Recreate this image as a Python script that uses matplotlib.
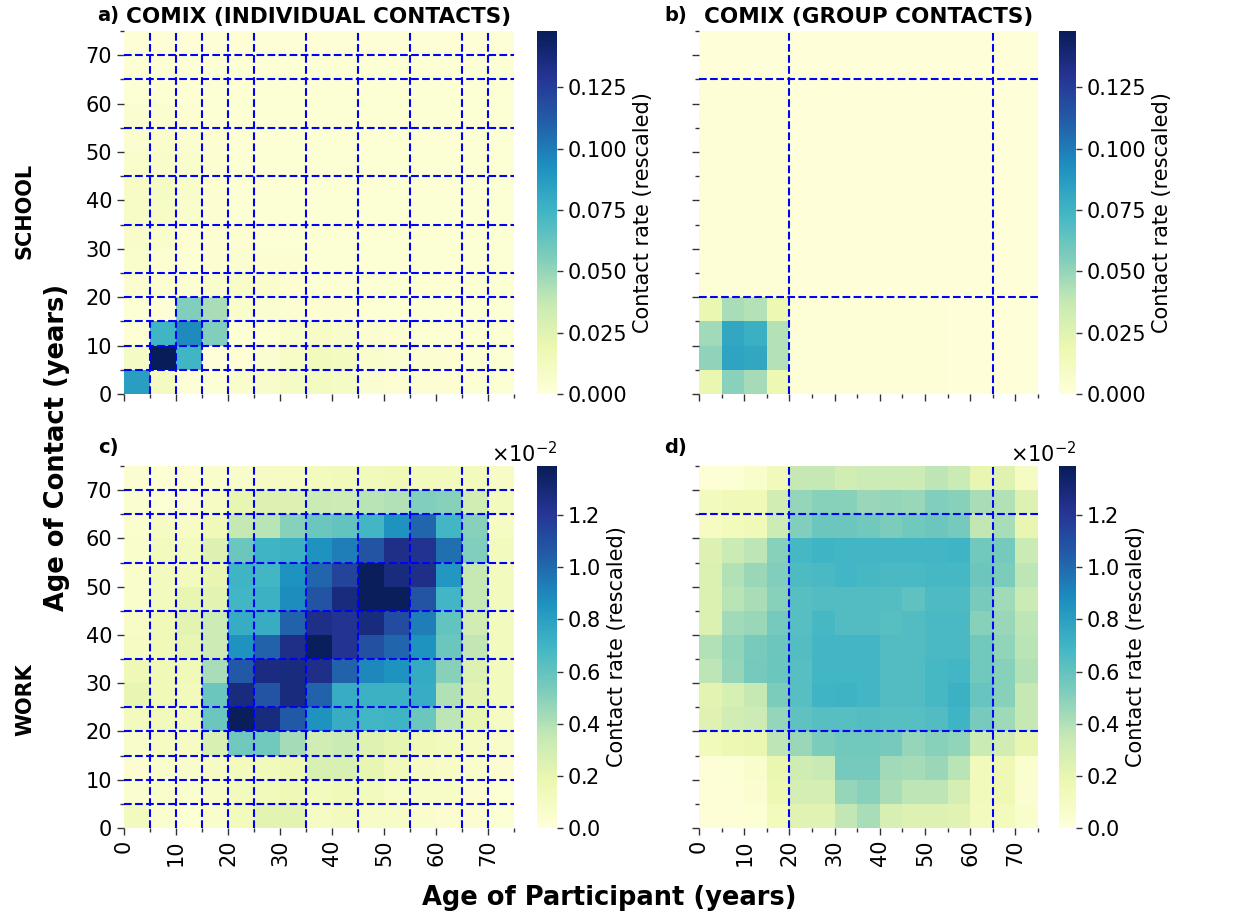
import numpy as np
import matplotlib
matplotlib.use("Agg")
import matplotlib.pyplot as plt
from matplotlib.ticker import MultipleLocator, ScalarFormatter

# 5-year age bins, 0-5 ... 70-75 (rows = age of contact, cols = age of participant)
age_edges = [0, 5, 10, 15, 20, 25, 30, 35, 40, 45, 50, 55, 60, 65, 70, 75]
age_ticks = [0, 10, 20, 30, 40, 50, 60, 70]

# school, individual contacts (rescaled contact rate)
school_individual = [
    [0.086, 0.012, 0.002, 0.003, 0.006, 0.007, 0.010, 0.012, 0.010, 0.005, 0.004, 0.004, 0.004, 0.003, 0.003],
    [0.010, 0.148, 0.074, 0.001, 0.002, 0.005, 0.009, 0.013, 0.012, 0.006, 0.005, 0.004, 0.004, 0.003, 0.003],
    [0.003, 0.074, 0.095, 0.055, 0.003, 0.003, 0.006, 0.009, 0.007, 0.005, 0.004, 0.003, 0.003, 0.003, 0.003],
    [0.003, 0.002, 0.055, 0.045, 0.006, 0.005, 0.004, 0.004, 0.004, 0.003, 0.003, 0.003, 0.003, 0.003, 0.003],
    [0.005, 0.004, 0.004, 0.006, 0.008, 0.006, 0.004, 0.003, 0.003, 0.003, 0.003, 0.003, 0.003, 0.003, 0.003],
    [0.006, 0.004, 0.003, 0.004, 0.005, 0.004, 0.004, 0.003, 0.003, 0.003, 0.003, 0.003, 0.003, 0.003, 0.003],
    [0.007, 0.006, 0.004, 0.004, 0.004, 0.003, 0.003, 0.003, 0.003, 0.003, 0.003, 0.003, 0.003, 0.003, 0.003],
    [0.009, 0.009, 0.006, 0.004, 0.003, 0.003, 0.003, 0.003, 0.003, 0.003, 0.003, 0.003, 0.003, 0.003, 0.003],
    [0.009, 0.010, 0.007, 0.004, 0.003, 0.003, 0.003, 0.003, 0.003, 0.003, 0.003, 0.003, 0.003, 0.003, 0.003],
    [0.006, 0.007, 0.006, 0.004, 0.003, 0.003, 0.003, 0.003, 0.003, 0.003, 0.003, 0.003, 0.003, 0.003, 0.003],
    [0.005, 0.006, 0.005, 0.004, 0.003, 0.003, 0.003, 0.003, 0.003, 0.003, 0.003, 0.003, 0.003, 0.003, 0.003],
    [0.005, 0.005, 0.004, 0.003, 0.003, 0.003, 0.003, 0.003, 0.003, 0.003, 0.003, 0.003, 0.003, 0.003, 0.003],
    [0.003, 0.003, 0.003, 0.003, 0.003, 0.003, 0.003, 0.003, 0.003, 0.003, 0.003, 0.003, 0.003, 0.003, 0.003],
    [0.003, 0.003, 0.003, 0.003, 0.003, 0.003, 0.003, 0.003, 0.003, 0.003, 0.003, 0.003, 0.003, 0.003, 0.003],
    [0.002, 0.002, 0.002, 0.002, 0.002, 0.002, 0.002, 0.002, 0.002, 0.002, 0.002, 0.002, 0.002, 0.002, 0.002],
]

# school, group contacts
school_group = [
    [0.020, 0.053, 0.046, 0.018, 0.002, 0.002, 0.002, 0.002, 0.002, 0.002, 0.002, 0.001, 0.001, 0.001, 0.001],
    [0.052, 0.083, 0.081, 0.042, 0.002, 0.002, 0.002, 0.002, 0.002, 0.002, 0.002, 0.001, 0.001, 0.001, 0.001],
    [0.047, 0.081, 0.077, 0.042, 0.002, 0.002, 0.002, 0.002, 0.002, 0.002, 0.002, 0.001, 0.001, 0.001, 0.001],
    [0.020, 0.045, 0.042, 0.018, 0.002, 0.002, 0.002, 0.002, 0.002, 0.002, 0.002, 0.001, 0.001, 0.001, 0.001],
    [0.002, 0.002, 0.002, 0.002, 0.001, 0.001, 0.001, 0.001, 0.001, 0.001, 0.001, 0.001, 0.001, 0.001, 0.001],
    [0.002, 0.002, 0.002, 0.002, 0.001, 0.001, 0.001, 0.001, 0.001, 0.001, 0.001, 0.001, 0.001, 0.001, 0.001],
    [0.002, 0.002, 0.002, 0.002, 0.001, 0.001, 0.001, 0.001, 0.001, 0.001, 0.001, 0.001, 0.001, 0.001, 0.001],
    [0.002, 0.002, 0.002, 0.002, 0.001, 0.001, 0.001, 0.001, 0.001, 0.001, 0.001, 0.001, 0.001, 0.001, 0.001],
    [0.002, 0.002, 0.002, 0.002, 0.001, 0.001, 0.001, 0.001, 0.001, 0.001, 0.001, 0.001, 0.001, 0.001, 0.001],
    [0.002, 0.002, 0.002, 0.002, 0.001, 0.001, 0.001, 0.001, 0.001, 0.001, 0.001, 0.001, 0.001, 0.001, 0.001],
    [0.002, 0.002, 0.002, 0.002, 0.001, 0.001, 0.001, 0.001, 0.001, 0.001, 0.001, 0.001, 0.001, 0.001, 0.001],
    [0.002, 0.002, 0.002, 0.002, 0.001, 0.001, 0.001, 0.001, 0.001, 0.001, 0.001, 0.001, 0.001, 0.001, 0.001],
    [0.002, 0.002, 0.002, 0.002, 0.001, 0.001, 0.001, 0.001, 0.001, 0.001, 0.001, 0.001, 0.001, 0.001, 0.001],
    [0.001, 0.001, 0.001, 0.001, 0.001, 0.001, 0.001, 0.001, 0.001, 0.001, 0.001, 0.001, 0.001, 0.001, 0.001],
    [0.001, 0.001, 0.001, 0.001, 0.001, 0.001, 0.001, 0.001, 0.001, 0.001, 0.001, 0.001, 0.001, 0.001, 0.001],
]

# work, individual contacts (in units of 1e-2)
work_individual = [
    [0.12, 0.05, 0.03, 0.06, 0.13, 0.22, 0.22, 0.10, 0.12, 0.08, 0.08, 0.06, 0.04, 0.04, 0.03],
    [0.05, 0.06, 0.05, 0.08, 0.12, 0.14, 0.16, 0.12, 0.15, 0.12, 0.08, 0.08, 0.08, 0.04, 0.03],
    [0.04, 0.06, 0.07, 0.10, 0.12, 0.14, 0.16, 0.27, 0.27, 0.20, 0.14, 0.10, 0.08, 0.06, 0.04],
    [0.07, 0.10, 0.10, 0.27, 0.56, 0.56, 0.43, 0.30, 0.33, 0.24, 0.21, 0.15, 0.12, 0.10, 0.07],
    [0.12, 0.14, 0.14, 0.58, 1.38, 1.28, 1.06, 0.86, 0.74, 0.69, 0.70, 0.58, 0.37, 0.20, 0.10],
    [0.20, 0.15, 0.14, 0.58, 1.28, 1.08, 1.28, 1.03, 0.74, 0.72, 0.72, 0.74, 0.40, 0.22, 0.12],
    [0.16, 0.15, 0.15, 0.42, 1.06, 1.27, 1.28, 1.25, 1.03, 0.90, 0.86, 0.75, 0.50, 0.25, 0.12],
    [0.10, 0.15, 0.20, 0.32, 0.86, 1.03, 1.25, 1.38, 1.22, 1.10, 1.01, 0.86, 0.58, 0.36, 0.12],
    [0.08, 0.15, 0.22, 0.32, 0.74, 0.74, 1.03, 1.25, 1.22, 1.28, 1.12, 0.93, 0.60, 0.30, 0.12],
    [0.06, 0.12, 0.20, 0.22, 0.69, 0.72, 0.88, 1.08, 1.28, 1.38, 1.38, 1.08, 0.69, 0.35, 0.12],
    [0.06, 0.12, 0.12, 0.20, 0.70, 0.69, 0.86, 1.01, 1.15, 1.38, 1.28, 1.25, 0.84, 0.35, 0.12],
    [0.06, 0.12, 0.12, 0.25, 0.58, 0.70, 0.72, 0.86, 0.93, 1.08, 1.25, 1.23, 0.98, 0.52, 0.12],
    [0.05, 0.10, 0.08, 0.15, 0.35, 0.38, 0.50, 0.58, 0.60, 0.69, 0.86, 1.01, 0.69, 0.50, 0.10],
    [0.05, 0.03, 0.04, 0.10, 0.20, 0.25, 0.25, 0.33, 0.32, 0.38, 0.40, 0.52, 0.50, 0.30, 0.12],
    [0.04, 0.03, 0.04, 0.06, 0.07, 0.09, 0.10, 0.12, 0.14, 0.14, 0.15, 0.13, 0.12, 0.12, 0.08],
]

# work, group contacts (in units of 1e-2)
work_group = [
    [0.02, 0.02, 0.03, 0.13, 0.23, 0.23, 0.36, 0.42, 0.28, 0.25, 0.25, 0.23, 0.12, 0.12, 0.06],
    [0.02, 0.02, 0.04, 0.17, 0.29, 0.29, 0.47, 0.50, 0.42, 0.37, 0.37, 0.29, 0.14, 0.16, 0.04],
    [0.02, 0.03, 0.06, 0.19, 0.31, 0.34, 0.55, 0.55, 0.44, 0.43, 0.46, 0.38, 0.14, 0.16, 0.05],
    [0.14, 0.17, 0.19, 0.37, 0.46, 0.53, 0.56, 0.56, 0.55, 0.47, 0.50, 0.48, 0.33, 0.30, 0.20],
    [0.24, 0.30, 0.32, 0.47, 0.61, 0.63, 0.63, 0.64, 0.63, 0.63, 0.65, 0.70, 0.54, 0.45, 0.35],
    [0.22, 0.28, 0.35, 0.53, 0.63, 0.70, 0.71, 0.69, 0.65, 0.65, 0.68, 0.72, 0.59, 0.50, 0.35],
    [0.37, 0.47, 0.55, 0.58, 0.63, 0.69, 0.69, 0.69, 0.65, 0.65, 0.68, 0.69, 0.56, 0.50, 0.40],
    [0.40, 0.48, 0.54, 0.57, 0.64, 0.69, 0.69, 0.69, 0.65, 0.65, 0.67, 0.67, 0.56, 0.48, 0.38],
    [0.26, 0.44, 0.46, 0.55, 0.63, 0.68, 0.65, 0.65, 0.63, 0.65, 0.67, 0.67, 0.50, 0.46, 0.37],
    [0.26, 0.38, 0.42, 0.50, 0.63, 0.65, 0.65, 0.65, 0.64, 0.61, 0.66, 0.66, 0.54, 0.44, 0.33],
    [0.26, 0.40, 0.46, 0.52, 0.66, 0.67, 0.69, 0.68, 0.67, 0.67, 0.68, 0.68, 0.57, 0.53, 0.37],
    [0.25, 0.33, 0.37, 0.50, 0.68, 0.70, 0.69, 0.69, 0.69, 0.69, 0.69, 0.70, 0.56, 0.55, 0.33],
    [0.10, 0.13, 0.15, 0.32, 0.52, 0.58, 0.57, 0.56, 0.53, 0.56, 0.57, 0.55, 0.36, 0.42, 0.20],
    [0.12, 0.15, 0.15, 0.30, 0.47, 0.50, 0.50, 0.46, 0.47, 0.46, 0.52, 0.50, 0.42, 0.40, 0.25],
    [0.02, 0.03, 0.06, 0.14, 0.35, 0.35, 0.30, 0.32, 0.32, 0.32, 0.37, 0.33, 0.20, 0.24, 0.10],
]
work_unit = 1e-2

individual_cuts = [5, 10, 15, 20, 25, 35, 45, 55, 65, 70]
group_cuts = [20, 65]

school_vmax = 0.148
work_vmax = 1.388e-2

W, H = 1250, 918


def box(x0, y0, x1, y1):
    # pixel box -> figure fraction
    return [x0 / W, 1 - y1 / H, (x1 - x0) / W, (y1 - y0) / H]


def heat(fig, ax_box, cb_box, data, vmax, cuts, show_x, show_y, sci):
    ax = fig.add_axes(ax_box)
    cax = fig.add_axes(cb_box)
    mesh = ax.pcolormesh(age_edges, age_edges, data, cmap="YlGnBu",
                         vmin=0, vmax=vmax, shading="flat", linewidth=0)
    for c in cuts:
        ax.axvline(c, color="#0000ff", ls="--", lw=1.5)
        ax.axhline(c, color="#0000ff", ls="--", lw=1.5)
    ax.set_xlim(0, 75)
    ax.set_ylim(0, 75)
    for s in ax.spines.values():
        s.set_visible(False)
    ax.set_xticks(age_ticks)
    ax.set_yticks(age_ticks)
    ax.xaxis.set_minor_locator(MultipleLocator(5))
    ax.yaxis.set_minor_locator(MultipleLocator(5))
    ax.tick_params(which="major", length=5, width=1, color="#333333", labelsize=15)
    ax.tick_params(which="minor", length=3, width=1, color="#333333")
    if show_x:
        ax.set_xticklabels([str(t) for t in age_ticks], rotation=90)
    else:
        ax.set_xticklabels([])
    if not show_y:
        ax.set_yticklabels([])

    cb = fig.colorbar(mesh, cax=cax)
    cb.outline.set_visible(False)
    cb.ax.tick_params(labelsize=15, length=4, width=1, color="#333333")
    cb.set_label("Contact rate (rescaled)", fontsize=15, labelpad=4)
    if sci:
        fmt = ScalarFormatter(useMathText=True)
        fmt.set_powerlimits((0, 0))
        cb.ax.yaxis.set_major_locator(MultipleLocator(0.002))
        cb.ax.yaxis.set_major_formatter(fmt)
        cb.ax.yaxis.get_offset_text().set_fontsize(15)
    else:
        cb.ax.yaxis.set_major_locator(MultipleLocator(0.025))
    return ax


fig = plt.figure(figsize=(12.5, 9.18), dpi=100)

ax_a = heat(fig, box(124, 31, 514, 394), box(537, 31, 557, 394),
            school_individual, school_vmax, individual_cuts, False, True, False)
ax_b = heat(fig, box(699, 31, 1038, 394), box(1059, 31, 1076, 394),
            school_group, school_vmax, group_cuts, False, False, False)
ax_c = heat(fig, box(124, 466, 514, 828), box(537, 466, 557, 828),
            np.array(work_individual) * work_unit, work_vmax, individual_cuts, True, True, True)
ax_d = heat(fig, box(699, 466, 1038, 828), box(1059, 466, 1076, 828),
            np.array(work_group) * work_unit, work_vmax, group_cuts, True, False, True)

ax_a.set_title("COMIX (INDIVIDUAL CONTACTS)", fontsize=15.5, fontweight="bold", pad=6)
ax_b.set_title("COMIX (GROUP CONTACTS)", fontsize=15.5, fontweight="bold", pad=6)

for lab, x, y in [("a)", 108, 16), ("b)", 676, 16), ("c)", 108, 448), ("d)", 676, 448)]:
    fig.text(x / W, 1 - y / H, lab, fontsize=14, fontweight="bold", ha="center", va="center")

fig.text(25 / W, 1 - 211 / H, "SCHOOL", rotation=90, fontsize=15, fontweight="bold",
         ha="center", va="center")
fig.text(25 / W, 1 - 700 / H, "WORK", rotation=90, fontsize=15, fontweight="bold",
         ha="center", va="center")
fig.text(57 / W, 1 - 447 / H, "Age of Contact (years)", rotation=90, fontsize=18.5,
         fontweight="bold", ha="center", va="center")
fig.text(609 / W, 1 - 898 / H, "Age of Participant (years)", fontsize=18.5,
         fontweight="bold", ha="center", va="center")

fig.savefig("out.png", dpi=100)
